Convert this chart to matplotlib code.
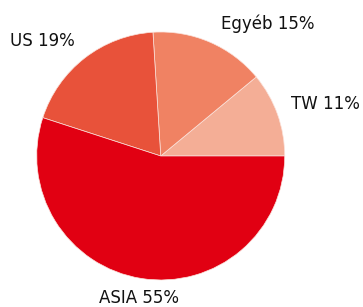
import matplotlib.pyplot as plt

labels = ['TW', 'Egyéb', 'US', 'ASIA']
values = [11, 15, 19, 55]
colors = ['#f4ae96', '#f08263', '#e8523a', '#e10012']

# label centres, in pie-radius units
label_pos = [(1.325, 0.423), (0.865, 1.069), (-0.957, 0.931), (-0.175, -1.149)]

fig = plt.figure(figsize=(3.63, 3.07), dpi=100)
ax = fig.add_axes([0, 0, 1, 1])

wedges, texts = ax.pie(values, colors=colors, startangle=0, counterclock=True,
                       labels=[f'{l} {v}%' for l, v in zip(labels, values)],
                       wedgeprops=dict(edgecolor='#fbe3dc', linewidth=0.5),
                       textprops=dict(fontsize=12, color='#111111'))
for t, (x, y) in zip(texts, label_pos):
    t.set_position((x, y))
    t.set_ha('center')
    t.set_va('center')

ax.set_xlim(-1.296, 1.631)
ax.set_ylim(-1.218, 1.258)
ax.axis('off')

fig.savefig('out.png', dpi=100)
